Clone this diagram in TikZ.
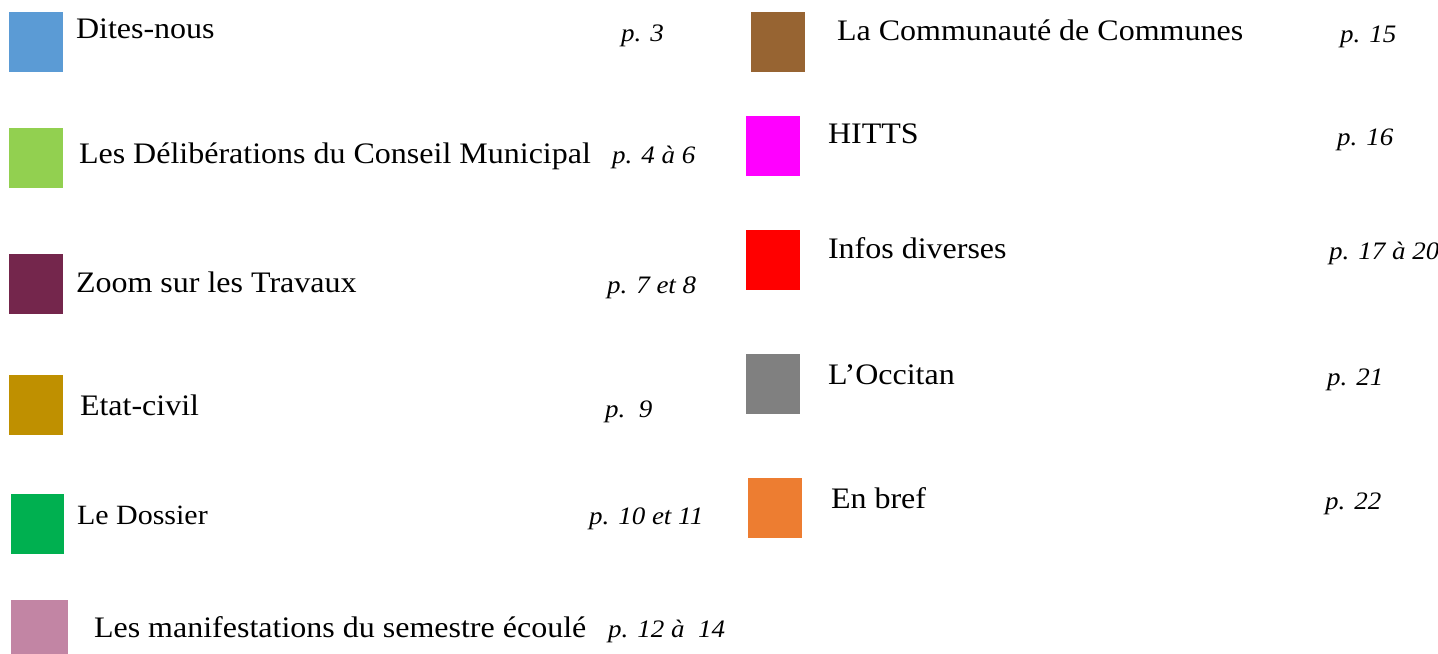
\documentclass[tikz,border=0pt]{standalone}
\usepackage{fontspec}
\setmainfont{Liberation Serif}
\usepackage{graphicx}
\newcommand\squish[1]{\scalebox{1}[0.93]{#1}}
\definecolor{cblue}{HTML}{5B9BD5}
\definecolor{clgreen}{HTML}{92D050}
\definecolor{cmaroon}{HTML}{74264C}
\definecolor{cgold}{HTML}{BF9000}
\definecolor{cgreen}{HTML}{00B050}
\definecolor{cpink}{HTML}{C285A4}
\definecolor{cbrown}{HTML}{976432}
\definecolor{cmagenta}{HTML}{FF00FF}
\definecolor{cred}{HTML}{FF0000}
\definecolor{cgray}{HTML}{808080}
\definecolor{corange}{HTML}{ED7D31}
\begin{document}
\begin{tikzpicture}[x=0.5pt,y=-0.5pt,
  sq/.style={anchor=north west, inner sep=0pt, outer sep=0pt, minimum width=27pt, minimum height=29.75pt, draw=none},
  lbl/.style={anchor=base west, inner sep=0pt, outer sep=0pt, font=\fontsize{16}{19}\selectfont},
  pg/.style={anchor=base west, inner sep=0pt, outer sep=0pt, font=\fontsize{13.5}{16}\selectfont\itshape}]
\useasboundingbox (0,0) rectangle (1438,653);
% left column
\node[sq, fill=cblue] (s1) at (9,12) {};
\node[lbl] (t1) at (76,39) {\squish{Dites-nous}};
\node[pg] (p1) at (621,41) {\squish{p. 3}};

\node[sq, fill=clgreen] (s2) at (9,128) {};
\node[lbl] (t2) at (79,163) {\squish{Les Délibérations du Conseil Municipal}};
\node[pg] (p2) at (612,163) {\squish{p. 4 à 6}};

\node[sq, fill=cmaroon] (s3) at (9,254) {};
\node[lbl] (t3) at (76,292) {\squish{Zoom sur les Travaux}};
\node[pg] (p3) at (607,293) {\squish{p. 7 et 8}};

\node[sq, fill=cgold] (s4) at (9,375) {};
\node[lbl] (t4) at (80,415) {\squish{Etat-civil}};
\node[pg] (p4) at (605,417) {\squish{p.~~9}};

\node[sq, fill=cgreen, minimum width=26.75pt] (s5) at (10.5,494) {};
\node[lbl, font=\fontsize{15}{18}\selectfont] (t5) at (77,524) {\squish{Le Dossier}};
\node[pg] (p5) at (589,524) {\squish{p. 10 et 11}};

\node[sq, fill=cpink, minimum width=28.75pt, minimum height=32pt] (s6) at (10.5,600) {};
\node[lbl] (t6) at (94,637) {\squish{Les manifestations du semestre écoulé}};
\node[pg] (p6) at (608,637) {\squish{p. 12 à~~14}};

% right column
\node[sq, fill=cbrown] (s7) at (751,12) {};
\node[lbl] (t7) at (837,40) {\squish{La Communauté de Communes}};
\node[pg] (p7) at (1340,42) {\squish{p. 15}};

\node[sq, fill=cmagenta] (s8) at (746,116) {};
\node[lbl] (t8) at (828,143) {\squish{HITTS}};
\node[pg] (p8) at (1337,145) {\squish{p. 16}};

\node[sq, fill=cred] (s9) at (746,230) {};
\node[lbl] (t9) at (828,258) {\squish{Infos diverses}};
\node[pg] (p9) at (1329,259) {\squish{p. 17 à 20}};

\node[sq, fill=cgray] (s10) at (746,354) {};
\node[lbl] (t10) at (828,384) {\squish{L’Occitan}};
\node[pg] (p10) at (1327,385) {\squish{p. 21}};

\node[sq, fill=corange] (s11) at (748,478) {};
\node[lbl] (t11) at (831,508) {\squish{En bref}};
\node[pg] (p11) at (1325,509) {\squish{p. 22}};
\end{tikzpicture}
\end{document}
